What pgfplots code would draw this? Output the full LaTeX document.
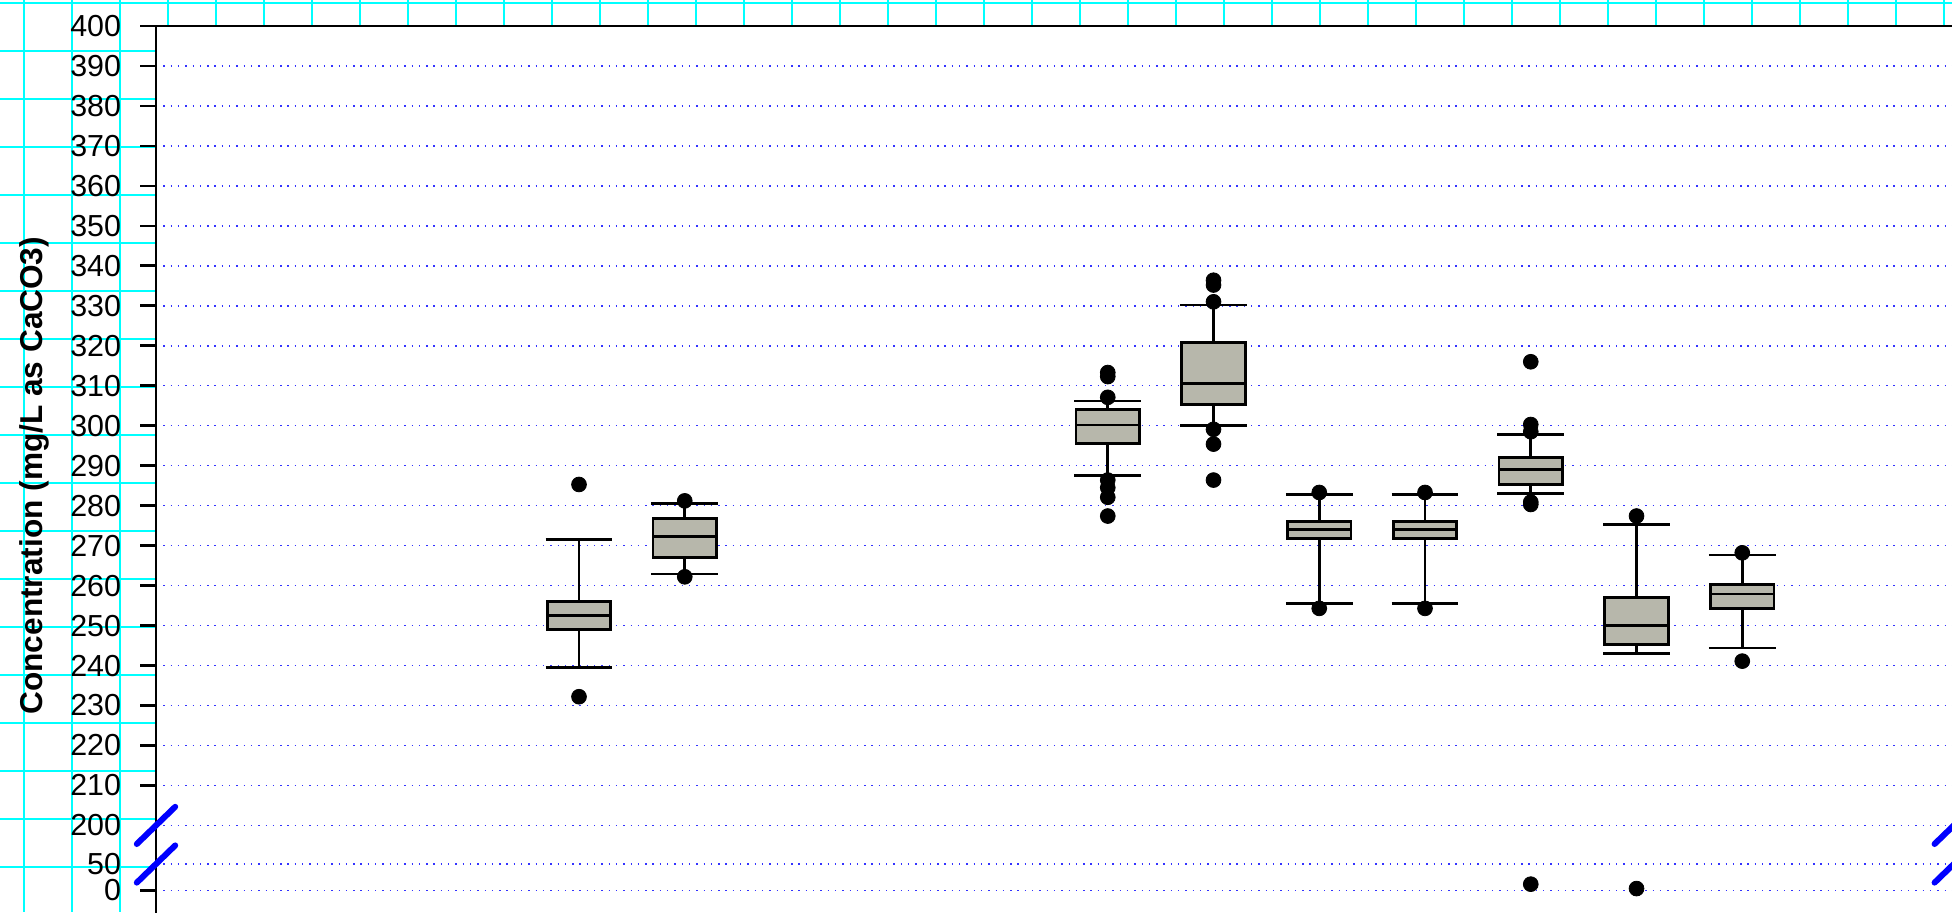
\documentclass[border=0pt]{standalone}
\usepackage{fontspec}
\setmainfont{Liberation Sans}
\usepackage{pgfplots}
\pgfplotsset{compat=1.18}

\definecolor{boxgray}{RGB}{183,183,171}
\definecolor{papercyan}{RGB}{0,255,255}

\pgfplotsset{
  common/.style={
    scale only axis, width=898.875pt,
    xmin=0, xmax=17,
    clip=false,
    xtick=\empty,
    ytick pos=left,
    tick align=outside,
    major tick length=8pt,
    tick style={line width=1.35pt, black},
    ymajorgrids,
    major grid style={blue!80, line width=0.75pt, dash pattern=on 0.7pt off 2.95pt},
    tick label style={font=\fontsize{15.2}{18}\selectfont},
    yticklabel style={inner sep=0pt, anchor=east, xshift=-9.3pt},
    extra y tick style={tick style={draw=none}},
  },
  ln/.style={black, line width=1.4pt},
  out/.style={only marks, mark=*, mark size=3.7pt, mark options={fill=black, draw=black}},
}

% box: position, lower whisker, lower quartile, median, upper quartile, upper whisker
\newcommand\bx[6]{%
  \pgfmathsetmacro\bxL{#1-0.3}\pgfmathsetmacro\bxR{#1+0.3}%
  \pgfmathsetmacro\bxCL{#1-0.315}\pgfmathsetmacro\bxCR{#1+0.315}%
  \addplot[ln] coordinates {(#1,#5) (#1,#6)};
  \addplot[ln] coordinates {(#1,#2) (#1,#3)};
  \addplot[ln] coordinates {(\bxCL,#6) (\bxCR,#6)};
  \addplot[ln] coordinates {(\bxCL,#2) (\bxCR,#2)};
  \addplot[ln, fill=boxgray, line cap=rect] coordinates {(\bxL,#3) (\bxR,#3) (\bxR,#5) (\bxL,#5) (\bxL,#3)};
  \addplot[ln] coordinates {(\bxL,#4) (\bxR,#4)};
}

% 1 px of the reference = 0.5pt
\begin{document}
\begin{tikzpicture}
\path[use as bounding box] (0,0) rectangle (976pt,-456pt);
\clip (0,0) rectangle (976pt,-456pt);
\fill[white] (0,0) rectangle (976pt,-456pt);
% graph paper behind the chart
\foreach \i in {0,...,40}
  \draw[papercyan, line width=1pt] ({(12+24*\i)*1pt},0) -- ++(0,-456pt);
\foreach \i in {0,...,18}
  \draw[papercyan, line width=1pt] (0,{-(1.5+24*\i)*1pt}) -- ++(976pt,0);

% upper segment 200-400
\begin{axis}[
    common,
    at={(78pt,-13pt)}, anchor=north west,
    height=449.66pt,
    ymin=175, ymax=400,
    axis background/.style={fill=white},
    axis line style={line width=1.35pt, black},
    ytick={210,220,...,400},
    yticklabels={210,220,230,240,250,260,270,280,290,300,310,320,330,340,350,360,370,380,390,400},
    extra y ticks={200},
    extra y tick labels={200},
    ylabel={Concentration (mg/L as CaCO3)},
    ylabel style={at={(axis description cs:-0.0676,0.5)}, anchor=center,
                  font=\bfseries\fontsize{15.8}{18}\selectfont},
]
\bx{4}{239.6}{249.05}{252.6}{256.0}{271.6}
\addplot[out] coordinates {(4,285.3) (4,232.2)};
\bx{5}{262.9}{267.1}{272.2}{276.7}{280.6}
\addplot[out] coordinates {(5,281.2) (5,262.2)};
\bx{9}{287.5}{295.6}{300.2}{304.1}{306.2}
\addplot[out] coordinates {(9,313.3) (9,312.3) (9,307.1) (9,286.4) (9,284.5) (9,282.1) (9,277.4)};
\bx{10}{300.1}{305.4}{310.6}{320.8}{330.2}
\addplot[out] coordinates {(10,336.4) (10,335.2) (10,331.0) (10,299.1) (10,295.4) (10,286.4)};
\bx{11}{255.6}{271.8}{274.1}{276.0}{282.8}
\addplot[out] coordinates {(11,283.3) (11,254.3)};
\bx{12}{255.6}{271.8}{274.1}{276.0}{282.8}
\addplot[out] coordinates {(12,283.3) (12,254.3)};
\bx{13}{283.1}{285.3}{289.1}{292.1}{297.8}
\addplot[out] coordinates {(13,316.0) (13,300.3) (13,298.5) (13,280.9) (13,280.3)};
\bx{14}{243.1}{245.3}{250.1}{257.1}{275.2}
\addplot[out] coordinates {(14,277.4)};
\bx{15}{244.4}{254.3}{257.9}{260.3}{267.65}
\addplot[out] coordinates {(15,268.2) (15,241.1)};
\end{axis}

% lower segment 0-50
\begin{axis}[
    common,
    at={(78pt,-445.25pt)}, anchor=south west,
    height=13.25pt,
    ymin=0, ymax=50,
    axis line style={draw=none},
    ytick={0},
    yticklabels={0},
    extra y ticks={50},
    extra y tick labels={50},
]
\addplot[out] coordinates {(13,12) (14,3.7)};
\end{axis}
% the axis line continues through the lower segment
\draw[black, line width=1.35pt] (78pt,-400pt) -- (78pt,-456pt);

% axis break marks at 200 and 50, on both sides
\foreach \bxx in {78pt,976.875pt}
  \foreach \byy in {-412.7pt,-432pt}
    \draw[blue, line width=3pt, line cap=round]
      ([xshift=-9.6pt,yshift=-9.3pt]\bxx,\byy) -- ([xshift=9.6pt,yshift=9.3pt]\bxx,\byy);
\end{tikzpicture}
\end{document}
